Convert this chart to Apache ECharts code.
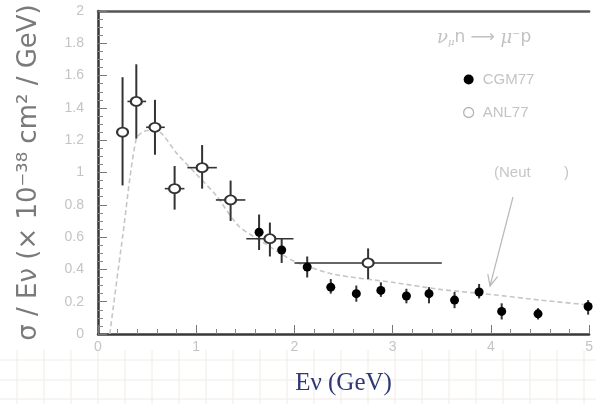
<!DOCTYPE html>
<html>
<head>
<meta charset="utf-8">
<script src="https://cdn.jsdelivr.net/npm/echarts@6/dist/echarts.min.js"></script>
<style>
html,body{margin:0;padding:0;background:#fff;}
#c{width:596px;height:404px;}
</style>
</head>
<body>
<div id="c"></div>
<script>
// ---- data ----
// CGM77 (filled)
const cgmE  = [1.64, 1.87, 2.13, 2.37, 2.63, 2.88, 3.14, 3.37, 3.63, 3.88, 4.11, 4.48, 4.99];
const cgmXS = [0.63, 0.52, 0.415, 0.29, 0.25, 0.27, 0.235, 0.25, 0.21, 0.26, 0.14, 0.125, 0.17];
const cgmLo = [0.52, 0.44, 0.35, 0.25, 0.20, 0.23, 0.19, 0.19, 0.16, 0.22, 0.09, 0.09, 0.12];
const cgmHi = [0.74, 0.59, 0.48, 0.34, 0.30, 0.32, 0.28, 0.29, 0.26, 0.31, 0.19, 0.16, 0.21];
// ANL77 (open)
const anlE   = [0.25, 0.39, 0.58, 0.78, 1.06, 1.35, 1.75, 2.75];
const anlXS  = [1.25, 1.44, 1.28, 0.90, 1.03, 0.83, 0.59, 0.44];
const anlLo  = [0.92, 1.21, 1.11, 0.77, 0.90, 0.70, 0.48, 0.34];
const anlHi  = [1.59, 1.67, 1.45, 1.04, 1.17, 0.95, 0.69, 0.53];
const anlELo = [0.20, 0.30, 0.49, 0.68, 0.91, 1.20, 1.51, 2.00];
const anlEHi = [0.30, 0.49, 0.68, 0.88, 1.21, 1.50, 1.99, 3.50];
// NEUT prediction curve
const neutE  = [0.12, 0.25, 0.39, 0.50, 0.63, 0.80, 1.00, 1.20, 1.43, 1.70, 2.00, 2.40, 3.00, 3.50, 4.00, 4.50, 5.00];
const neutXS = [0.00, 0.60, 1.21, 1.26, 1.25, 1.12, 0.99, 0.86, 0.67, 0.56, 0.45, 0.37, 0.32, 0.275, 0.245, 0.21, 0.18];
// axis ticks
const xTicks = {min: 0, max: 5, interval: 1};
const yTicks = {min: 0, max: 2, interval: 0.2};

const chart = echarts.init(document.getElementById('c'), null, {renderer: 'canvas'});

const cgmBars = cgmE.map((e, i) => [e, cgmLo[i], cgmHi[i], e, e]);
const anlBars = anlE.map((e, i) => [e, anlLo[i], anlHi[i], anlELo[i], anlEHi[i], anlXS[i]]);

function barRender(params, api) {
  const x = api.value(0), lo = api.value(1), hi = api.value(2), xl = api.value(3), xh = api.value(4);
  const a = api.coord([x, lo]), b = api.coord([x, hi]);
  const ch = [{type: 'line', shape: {x1: a[0], y1: a[1], x2: b[0], y2: b[1]},
               style: {stroke: '#333', lineWidth: 2}}];
  if (xl !== xh) {
    const yv = api.value(5);
    const c = api.coord([xl, yv]), d = api.coord([xh, yv]);
    ch.push({type: 'line', shape: {x1: c[0], y1: c[1], x2: d[0], y2: d[1]},
             style: {stroke: '#333', lineWidth: 1.6}});
  }
  return {type: 'group', children: ch};
}

// decorative faint grid paper below the plot
const paper = [];
[360, 380, 399].forEach(y => paper.push({type: 'line', shape: {x1: 0, y1: y, x2: 596, y2: y},
  style: {stroke: '#f0ebe6', lineWidth: 1}, silent: true}));
for (let x = 17; x < 596; x += 27) paper.push({type: 'line', shape: {x1: x, y1: 350, x2: x, y2: 404},
  style: {stroke: '#f0ebe6', lineWidth: 1}, silent: true});

const option = {
  animation: false,
  backgroundColor: '#fff',
  grid: {left: 98, right: 3, top: 11, bottom: 70},
  title: {
    left: 432, top: 24,
    text: '{i|ν}{s|μ}{r|n ⟶ }{i|μ}{p|−}{r|p}',
    textStyle: {
      fontWeight: 'normal',
      rich: {
        i: {fontFamily: 'DejaVu Serif', fontStyle: 'italic', fontWeight: 'normal', fontSize: 18, color: '#c2c2c2'},
        r: {fontFamily: 'DejaVu Sans', fontWeight: 'normal', fontSize: 17, color: '#c2c2c2'},
        s: {fontFamily: 'DejaVu Serif', fontStyle: 'italic', fontWeight: 'normal', fontSize: 10, color: '#c2c2c2', verticalAlign: 'bottom', padding: [8, 0, 0, 0]},
        p: {fontFamily: 'DejaVu Sans', fontWeight: 'normal', fontSize: 10, color: '#c2c2c2', verticalAlign: 'top', padding: [0, 0, 8, 0]}
      }
    }
  },
  legend: {
    orient: 'vertical', left: 458, top: 67, itemGap: 18,
    itemWidth: 10, itemHeight: 10,
    textStyle: {color: '#c4c4c4', fontSize: 15, fontFamily: 'Liberation Sans', padding: [0, 0, 0, 4]},
    data: [
      {name: 'CGM77', icon: 'circle', itemStyle: {color: '#000', borderWidth: 0}},
      {name: 'ANL77', icon: 'circle', itemStyle: {color: '#fff', borderColor: '#b5b5b5', borderWidth: 1.3}}
    ]
  },
  xAxis: [{
    type: 'value', min: xTicks.min, max: xTicks.max, interval: xTicks.interval,
    name: 'Eν (GeV)', nameLocation: 'middle', nameGap: 37,
    nameTextStyle: {fontFamily: 'Liberation Serif', fontSize: 25, color: '#2e3878'},
    axisLine: {show: true, onZero: false, lineStyle: {color: '#383838', width: 2.5}},
    axisTick: {show: true, inside: true, length: 9, lineStyle: {color: '#777'}},
    minorTick: {show: true, splitNumber: 5, length: 5, lineStyle: {color: '#888'}},
    axisLabel: {color: '#c4c4c4', fontSize: 14, fontFamily: 'Liberation Sans', margin: 6},
    splitLine: {show: false}
  }, {
    type: 'value', position: 'top', min: xTicks.min, max: xTicks.max,
    axisLine: {show: true, onZero: false, lineStyle: {color: '#555', width: 2.5}},
    axisTick: {show: false}, axisLabel: {show: false}, splitLine: {show: false}
  }],
  yAxis: {
    type: 'value', min: yTicks.min, max: yTicks.max, interval: yTicks.interval,
    name: 'σ / Eν (× 10⁻³⁸ cm² / GeV)', nameLocation: 'middle', nameGap: 56, nameRotate: 90,
    nameTextStyle: {fontFamily: 'DejaVu Sans', fontSize: 26, color: '#7a7a7a'},
    axisLine: {show: true, onZero: false, lineStyle: {color: '#383838', width: 2.5}},
    axisTick: {show: true, inside: true, length: 9, lineStyle: {color: '#777'}},
    minorTick: {show: true, splitNumber: 4, length: 5, lineStyle: {color: '#888'}},
    axisLabel: {color: '#c4c4c4', fontSize: 14, fontFamily: 'Liberation Sans', margin: 14,
      formatter: v => String(Math.round(v * 10) / 10)},
    splitLine: {show: false}
  },
  series: [
    {
      name: 'NEUT', type: 'line', data: neutE.map((e, i) => [e, neutXS[i]]),
      showSymbol: false, smooth: 0.25, z: 1,
      lineStyle: {color: '#c6c6c6', width: 1.6, type: [5, 3]}
    },
    {
      name: 'cgmBars', type: 'custom', renderItem: barRender, data: cgmBars, z: 2, silent: true
    },
    {
      name: 'anlBars', type: 'custom', renderItem: barRender, data: anlBars, z: 2, silent: true
    },
    {
      name: 'CGM77', type: 'scatter', data: cgmE.map((e, i) => [e, cgmXS[i]]),
      symbol: 'circle', symbolSize: 9, z: 3,
      itemStyle: {color: '#000', opacity: 1}
    },
    {
      name: 'ANL77', type: 'scatter', data: anlE.map((e, i) => [e, anlXS[i]]),
      symbol: 'circle', symbolSize: [11, 9], z: 3,
      itemStyle: {color: '#fff', borderColor: '#333', borderWidth: 2, opacity: 1}
    }
  ],
  graphic: [
    {type: 'group', silent: true, z: -1, children: paper},
    {type: 'text', left: 494, top: 165, silent: true,
     style: {text: '(Neut        )', fill: '#c6c6c6', fontSize: 15, fontFamily: 'Liberation Sans'}},
    {type: 'line', silent: true, shape: {x1: 513, y1: 197, x2: 490, y2: 286},
     style: {stroke: '#b9b9b9', lineWidth: 1.2}},
    {type: 'polyline', silent: true, shape: {points: [[497.6, 276.7], [490, 286], [487.8, 274.2]]},
     style: {stroke: '#b9b9b9', lineWidth: 1.2, fill: null}}
  ]
};
chart.setOption(option);
</script>
</body>
</html>
